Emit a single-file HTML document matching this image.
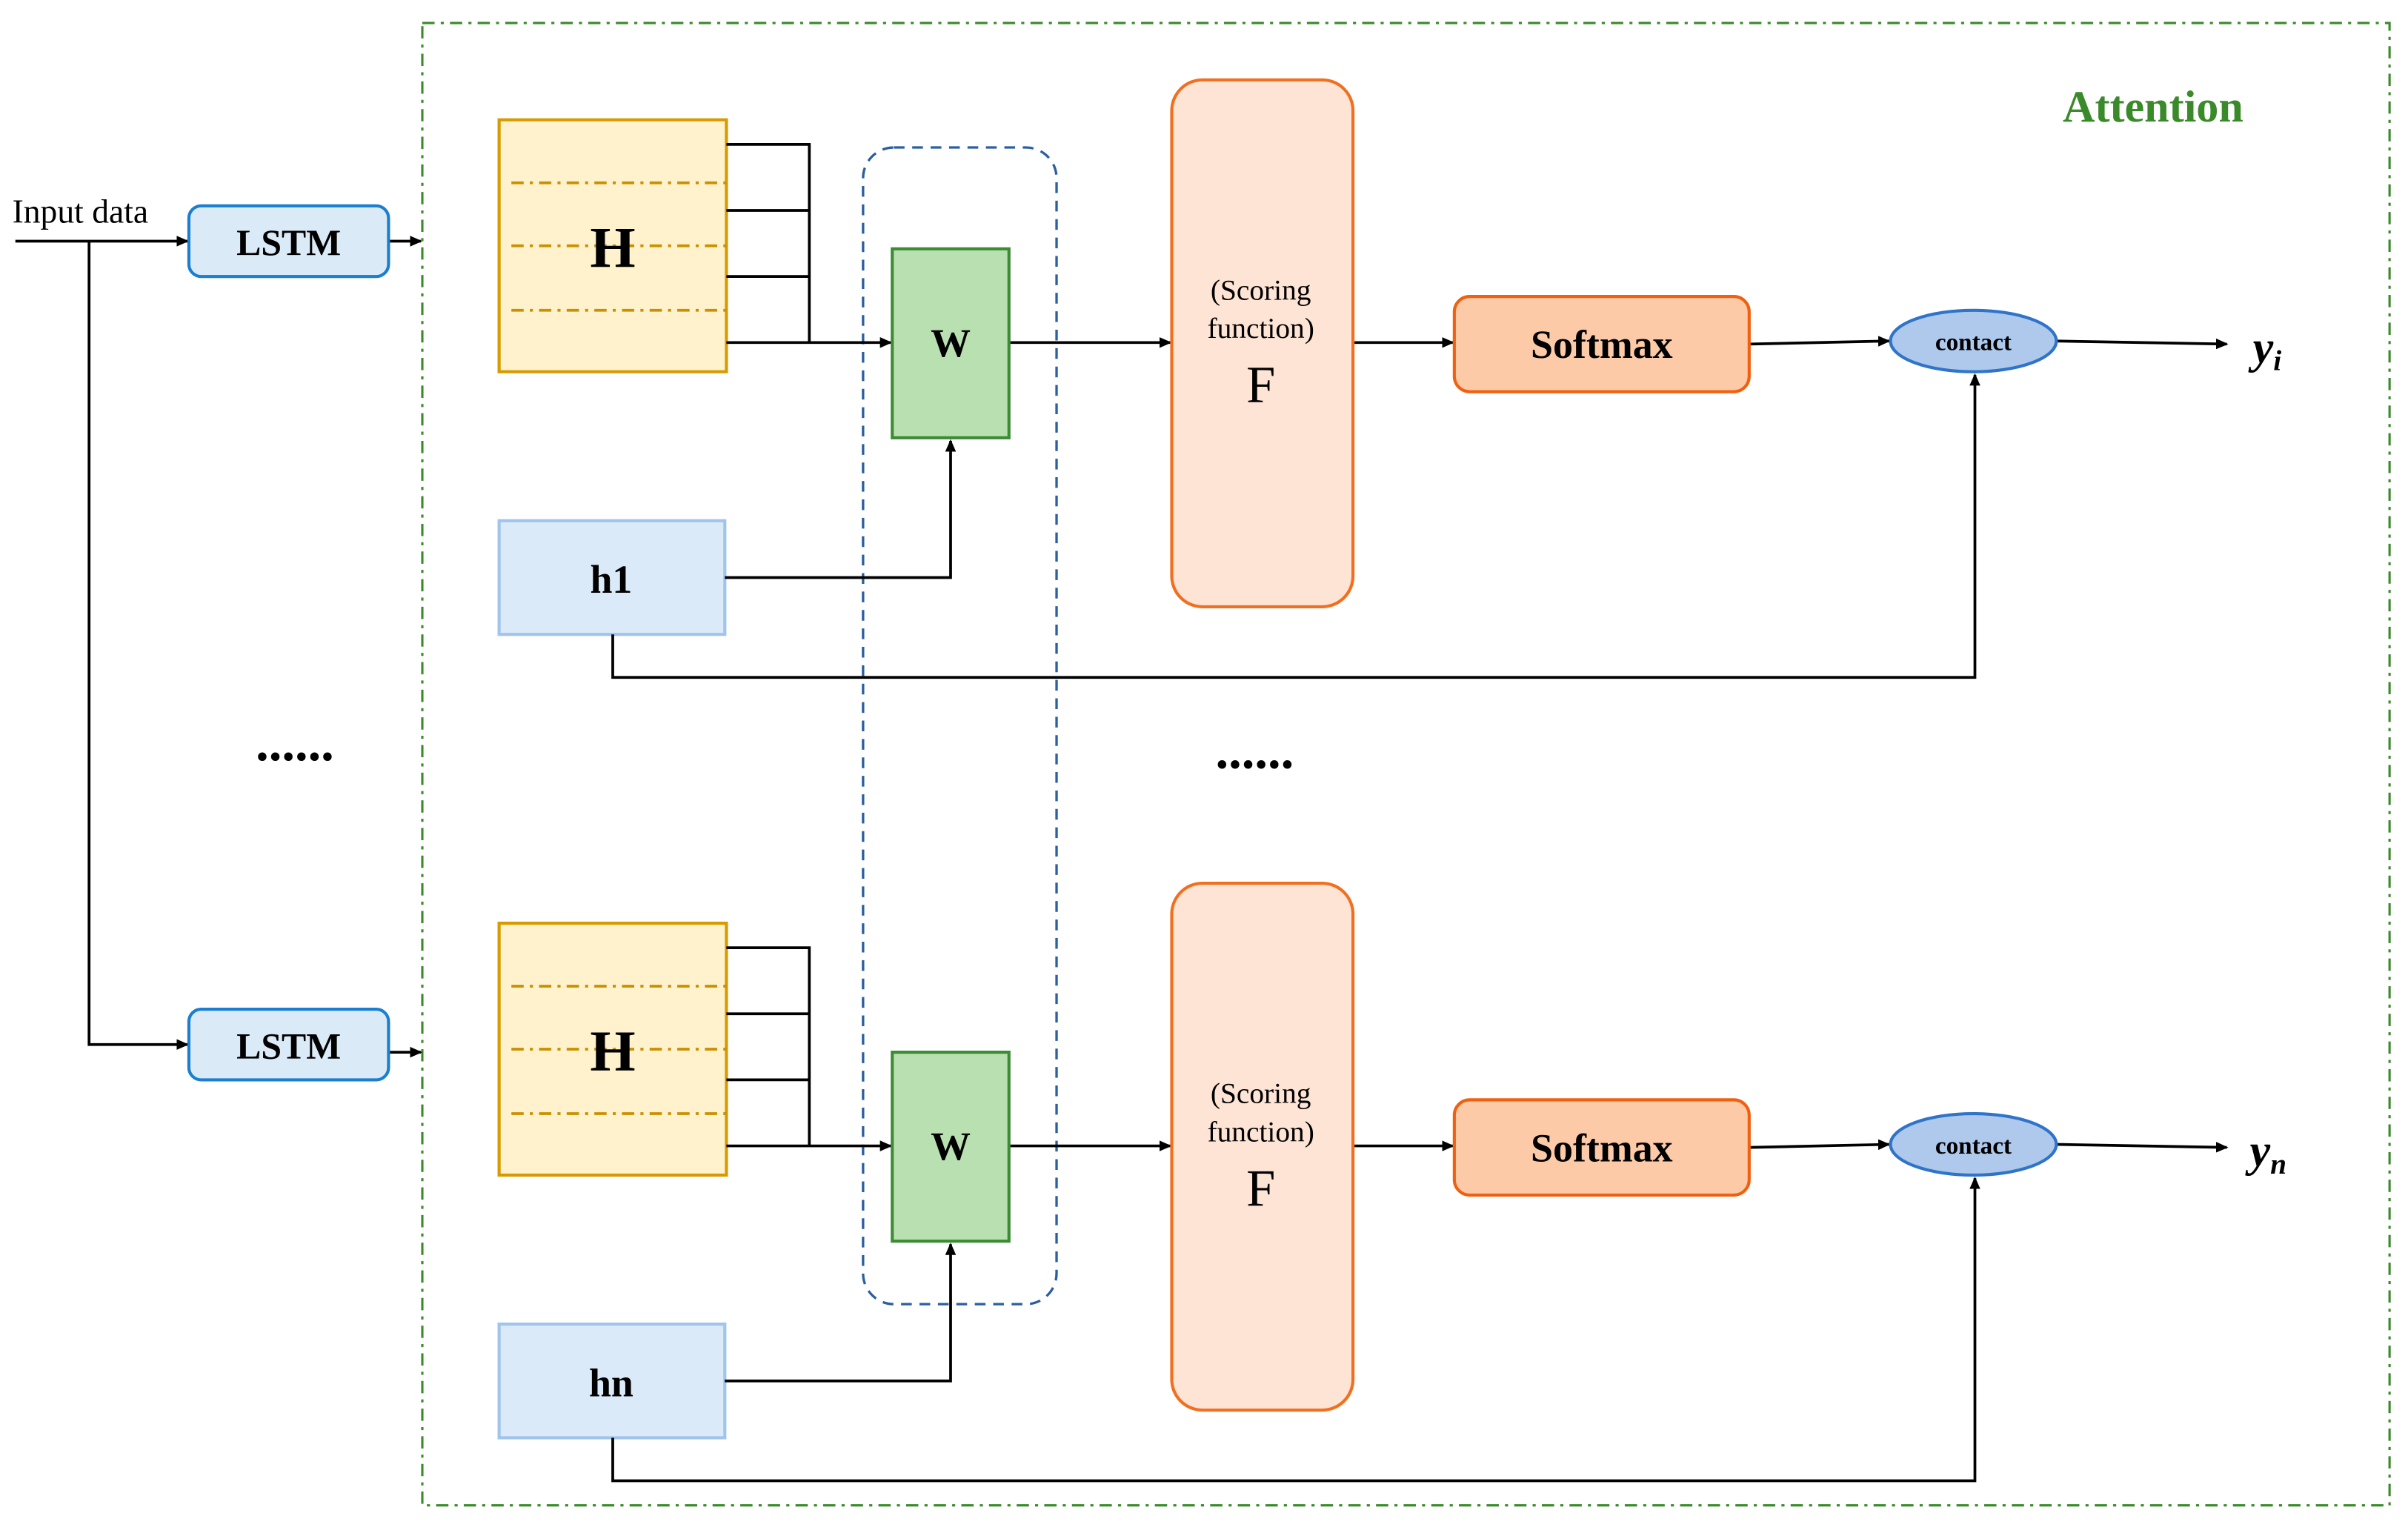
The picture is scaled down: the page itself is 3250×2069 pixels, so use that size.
<!DOCTYPE html>
<html><head><meta charset="utf-8"><style>html,body{margin:0;padding:0;background:#fff}svg{display:block}</style></head>
<body>
<svg width="3250" height="2069" viewBox="0 0 1568 998" preserveAspectRatio="none" xmlns="http://www.w3.org/2000/svg" font-family="Liberation Serif, serif">
<defs>
<marker id="a" markerWidth="8" markerHeight="8" refX="7" refY="4" orient="auto" markerUnits="userSpaceOnUse"><path d="M0,0.5 L8,4 L0,7.5 Z" fill="#000"/></marker>
</defs>
<rect width="1568" height="998" fill="#fff"/>
<rect x="275" y="15" width="1281" height="965" fill="none" stroke="#3a8a2a" stroke-width="1.5" stroke-dasharray="8,4,2,4"/>
<text x="1402" y="79" font-size="29" font-weight="bold" fill="#3a8a2a" text-anchor="middle">Attention</text>
<text x="8" y="145" font-size="22">Input data</text>
<g stroke="#000" stroke-width="1.8" fill="none">
<line x1="10" y1="157" x2="122" y2="157" marker-end="url(#a)"/>
<polyline points="58,157 58,680 122,680" marker-end="url(#a)"/>
<line x1="253" y1="157" x2="274" y2="157" marker-end="url(#a)"/>
<line x1="253" y1="685" x2="274" y2="685" marker-end="url(#a)"/>
</g>
<rect x="562" y="96" width="126" height="753" rx="20" fill="none" stroke="#2a5fa0" stroke-width="1.6" stroke-dasharray="7,5"/>
<g id="blk">
<rect x="123" y="134" width="130" height="46" rx="8" fill="#dbeaf7" stroke="#1a7fd0" stroke-width="2"/>
<text x="188" y="166" font-size="24" font-weight="bold" text-anchor="middle">LSTM</text>
<rect x="325" y="78" width="148" height="164" fill="#fff2cc" stroke="#d79b00" stroke-width="2"/>
<g stroke="#c99000" stroke-width="1.8" stroke-dasharray="8,4,2,4"><line x1="333" y1="119" x2="473" y2="119"/><line x1="333" y1="160" x2="473" y2="160"/><line x1="333" y1="202" x2="473" y2="202"/></g>
<text x="399" y="174" font-size="38" font-weight="bold" text-anchor="middle">H</text>
<g stroke="#000" stroke-width="1.8" fill="none">
<polyline points="473,94 527,94 527,223"/>
<line x1="473" y1="137" x2="527" y2="137"/><line x1="473" y1="180" x2="527" y2="180"/>
<line x1="473" y1="223" x2="580" y2="223" marker-end="url(#a)"/>
<line x1="657" y1="223" x2="762" y2="223" marker-end="url(#a)"/>
<line x1="881" y1="223" x2="946" y2="223" marker-end="url(#a)"/>
<line x1="1139" y1="224" x2="1230" y2="222" marker-end="url(#a)"/>
<line x1="1339" y1="222" x2="1450" y2="224" marker-end="url(#a)"/>
</g>
<rect x="581" y="162" width="76" height="123" fill="#b9e0b0" stroke="#3d8b35" stroke-width="2"/>
<text x="619" y="232" font-size="26" font-weight="bold" text-anchor="middle">W</text>
<rect x="763" y="52" width="118" height="343" rx="20" fill="#fde4d5" stroke="#f07020" stroke-width="2"/>
<text x="821" y="195" font-size="19" text-anchor="middle">(Scoring</text>
<text x="821" y="220" font-size="19" text-anchor="middle">function)</text>
<text x="821" y="262" font-size="34" text-anchor="middle">F</text>
<rect x="947" y="193" width="192" height="62" rx="10" fill="#fdcaa8" stroke="#f06010" stroke-width="2"/>
<text x="1043" y="233" font-size="26" font-weight="bold" text-anchor="middle">Softmax</text>
<ellipse cx="1285" cy="222" rx="54" ry="20" fill="#aec9ec" stroke="#2f74c9" stroke-width="2"/>
<text x="1285" y="228" font-size="16" font-weight="bold" text-anchor="middle">contact</text>
<rect x="325" y="339" width="147" height="74" fill="#dbeaf8" stroke="#a0c4ec" stroke-width="2"/>
<g stroke="#000" stroke-width="1.8" fill="none">
<polyline points="472,376 619,376 619,287" marker-end="url(#a)"/>
<polyline points="399,413 399,441 1286,441 1286,244" marker-end="url(#a)"/>
</g>
</g>
<text x="398" y="386" font-size="26" font-weight="bold" text-anchor="middle">h1</text>
<text x="1467" y="236" font-size="30" font-weight="bold" font-style="italic">y<tspan font-size="19" dy="5">i</tspan></text>
<use href="#blk" transform="translate(0,523)"/>
<text x="398" y="909" font-size="26" font-weight="bold" text-anchor="middle">hn</text>
<text x="1465" y="759" font-size="30" font-weight="bold" font-style="italic">y<tspan font-size="19" dy="5">n</tspan></text>
<text x="192" y="495" font-size="34" font-weight="bold" text-anchor="middle">......</text>
<text x="817" y="500" font-size="34" font-weight="bold" text-anchor="middle">......</text>
</svg>
</body></html>
